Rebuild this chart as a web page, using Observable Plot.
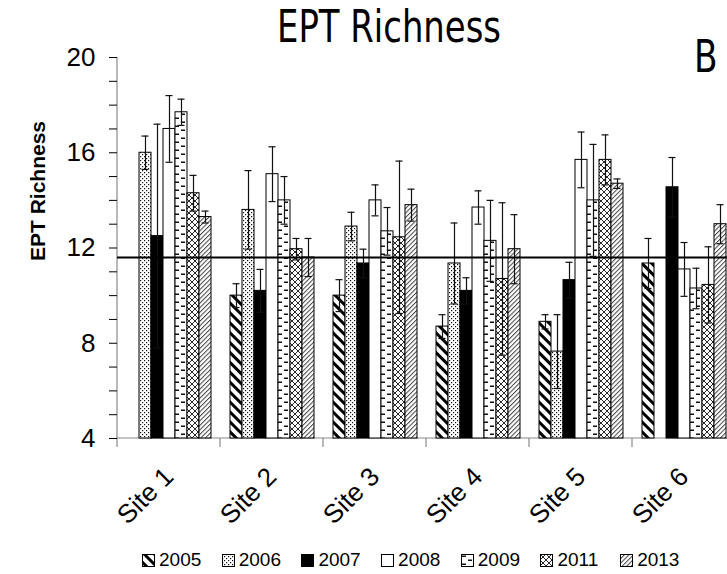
<!DOCTYPE html>
<html>
<head>
<meta charset="utf-8">
<script src="https://cdn.jsdelivr.net/npm/d3@7"></script>
<script src="https://cdn.jsdelivr.net/npm/@observablehq/plot@0.6"></script>
<style>
  html, body { margin: 0; padding: 0; background: #fff; overflow: hidden; }
  #wrap { position: relative; width: 727px; height: 574px; overflow: hidden; }
  #chart { position: absolute; left: 0; top: 0; }
  #title { position: absolute; top: 5px; left: 389px; font: 44px "DejaVu Sans", sans-serif; line-height: 1; white-space: nowrap; transform: translateX(-50%) scaleX(0.77); color: #000; }
  #panel { position: absolute; top: 35px; left: 694px; font: 44px "DejaVu Sans", sans-serif; line-height: 1; transform-origin: left top; transform: scaleX(0.78); color: #000; }
  #ylab { position: absolute; left: 38px; top: 191px; font: bold 21px "Liberation Sans", Arial, sans-serif; white-space: nowrap; transform: translate(-50%, -50%) rotate(-90deg); color: #000; }
  #legend { position: absolute; top: 548px; left: 142px; height: 24px; display: flex; font: 19px "Liberation Sans", Arial, sans-serif; line-height: 24px; color: #000; }
  #legend .item { width: 79.7px; display: flex; align-items: center; white-space: nowrap; }
  #legend svg { margin-right: 4px; }
  g[aria-label="y-axis tick"], g[aria-label="y-axis"] line, g[aria-label="y-axis"] path { stroke: #8a8a8a !important; }
  g[aria-label="y-axis tick label"], g[aria-label="y-axis"] text { font: 26px "Liberation Sans", Arial, sans-serif; fill: #000; }
  g[aria-label="fx-axis tick label"], g[aria-label="fx-axis"] text { font: 26px "Liberation Sans", Arial, sans-serif; fill: #000; }
</style>
</head>
<body>
<div id="wrap">
  <div id="chart"></div>
  <div id="title">EPT Richness</div>
  <div id="panel">B</div>
  <div id="ylab">EPT Richness</div>
  <div id="legend"></div>
</div>
<script>
// ---- data ----
const sites = ["Site 1", "Site 2", "Site 3", "Site 4", "Site 5", "Site 6"];
const years = ["2005", "2006", "2007", "2008", "2009", "2011", "2013"];

const v2005 = [null, 10.0, 10.0, 8.7, 8.9, 11.35];
const v2006 = [16.0, 13.6, 12.9, 11.35, 7.65, null];
const v2007 = [12.5, 10.2, 11.35, 10.2, 10.65, 14.55];
const v2008 = [17.0, 15.1, 14.0, 13.7, 15.7, 11.1];
const v2009 = [17.7, 14.0, 12.7, 12.3, 14.0, 10.3];
const v2011 = [14.3, 11.95, 12.45, 10.7, 15.7, 10.45];
const v2013 = [13.3, 11.6, 13.8, 11.95, 14.7, 13.0];

const e2005 = [null, 0.5, 0.67, 0.5, 0.3, 1.05];
const e2006 = [0.7, 1.65, 0.6, 1.7, 1.55, null];
const e2007 = [4.7, 0.9, 0.6, 0.55, 0.75, 1.25];
const e2008 = [1.4, 1.15, 0.65, 0.7, 1.17, 1.13];
const e2009 = [0.55, 1.0, 1.0, 1.7, 2.35, 0.85];
const e2011 = [0.75, 0.45, 3.2, 3.2, 1.05, 1.6];
const e2013 = [0.25, 0.8, 0.67, 1.45, 0.2, 0.82];

const meanLine = 11.6;
const yTicks = [4, 8, 12, 16, 20];
const yMin = 4, yMax = 20;

// ---- build table ----
const valueSeries = [v2005, v2006, v2007, v2008, v2009, v2011, v2013];
const errSeries = [e2005, e2006, e2007, e2008, e2009, e2011, e2013];
const rows = [];
years.forEach((yr, j) => {
  sites.forEach((s, i) => {
    const v = valueSeries[j][i];
    if (v != null) rows.push({site: s, year: yr, value: v, err: errSeries[j][i]});
  });
});

const fills = {
  "2005": "url(#p2005)", "2006": "url(#p2006)", "2007": "black", "2008": "white",
  "2009": "url(#p2009)", "2011": "url(#p2011)", "2013": "url(#p2013)"
};

const chart = Plot.plot({
  width: 727,
  height: 530,
  marginLeft: 117,
  marginRight: -8,
  marginTop: 57,
  marginBottom: 92,
  facet: {data: rows, x: "site"},
  fx: {domain: sites, padding: 0, label: null, tickSize: 0, tickRotate: -45, tickPadding: 34},
  x: {domain: years, axis: null, paddingInner: 0, paddingOuter: 0.79},
  y: {domain: [yMin, yMax], ticks: d3.range(yMin, yMax + 1), tickFormat: d => yTicks.includes(d) ? String(d) : "", tickSize: 8, tickPadding: 14, label: null},
  color: {type: "ordinal", domain: years, range: years.map(y => fills[y])},
  marks: [
    Plot.barY(rows, {x: "year", y1: yMin, y2: "value", fill: "year", stroke: "black", strokeWidth: 1}),
    Plot.ruleX(rows, {x: "year", y1: d => d.value - d.err, y2: d => d.value + d.err, stroke: "#111", strokeWidth: 1.2}),
    Plot.tickY(rows, {x: "year", y: d => d.value + d.err, stroke: "#111", strokeWidth: 1.2, insetLeft: 2.5, insetRight: 2.5}),
    Plot.tickY(rows, {x: "year", y: d => d.value - d.err, stroke: "#111", strokeWidth: 1.2, insetLeft: 2.5, insetRight: 2.5}),
    Plot.ruleY([meanLine], {stroke: "black", strokeWidth: 2})
  ]
});

document.getElementById("chart").appendChild(chart);

// patterns
const svg = d3.select(chart);
svg.insert("defs", ":first-child").html(`
  <pattern id="p2005" patternUnits="userSpaceOnUse" width="7" height="7" patternTransform="rotate(-45)">
    <rect width="7" height="7" fill="white"/><rect width="3" height="7" fill="black"/>
  </pattern>
  <pattern id="p2006" patternUnits="userSpaceOnUse" width="4" height="4">
    <rect width="4" height="4" fill="white"/>
    <rect x="0" y="0" width="1.2" height="1.2" fill="#111"/>
    <rect x="2" y="2" width="1.2" height="1.2" fill="#111"/>
  </pattern>
  <pattern id="p2009" patternUnits="userSpaceOnUse" width="12" height="8">
    <rect width="12" height="8" fill="white"/>
    <rect x="1" y="1.5" width="4" height="1.5" fill="#111"/>
    <rect x="7" y="5.5" width="4" height="1.5" fill="#111"/>
  </pattern>
  <pattern id="p2011" patternUnits="userSpaceOnUse" width="6" height="6">
    <rect width="6" height="6" fill="white"/>
    <path d="M0,0L6,6M6,0L0,6" stroke="#111" stroke-width="0.9"/>
  </pattern>
  <pattern id="p2013" patternUnits="userSpaceOnUse" width="3.2" height="3.2" patternTransform="rotate(45)">
    <rect width="3.2" height="3.2" fill="white"/><rect width="1" height="3.2" fill="#444"/>
  </pattern>
`);

// axis lines and category boundary ticks, positioned by Plot's scales (drawn beneath the marks)
const fxs = chart.scale("fx");
const ys = chart.scale("y");
const x0 = fxs.apply(sites[0]);
const step = fxs.apply(sites[1]) - fxs.apply(sites[0]);
const yb = ys.apply(yMin), yt = ys.apply(yMax);
const axisG = document.createElementNS("http://www.w3.org/2000/svg", "g");
chart.insertBefore(axisG, chart.firstChild.nextSibling);
const g = d3.select(axisG).attr("stroke", "#8a8a8a").attr("stroke-width", 1.2);
g.append("line").attr("x1", x0).attr("x2", x0 + step * sites.length).attr("y1", yb).attr("y2", yb);
g.append("line").attr("x1", x0).attr("x2", x0).attr("y1", yt).attr("y2", yb);
for (let i = 0; i <= sites.length; i++) {
  g.append("line").attr("x1", x0 + i * step).attr("x2", x0 + i * step).attr("y1", yb).attr("y2", yb + 9);
}

// legend
const legend = document.getElementById("legend");
years.forEach(yr => {
  const item = document.createElement("div");
  item.className = "item";
  item.innerHTML = `<svg width="13" height="13"><rect x="0.5" y="0.5" width="12" height="12" fill="${fills[yr]}" stroke="black" stroke-width="1"/></svg><span>${yr}</span>`;
  legend.appendChild(item);
});
</script>
</body>
</html>
